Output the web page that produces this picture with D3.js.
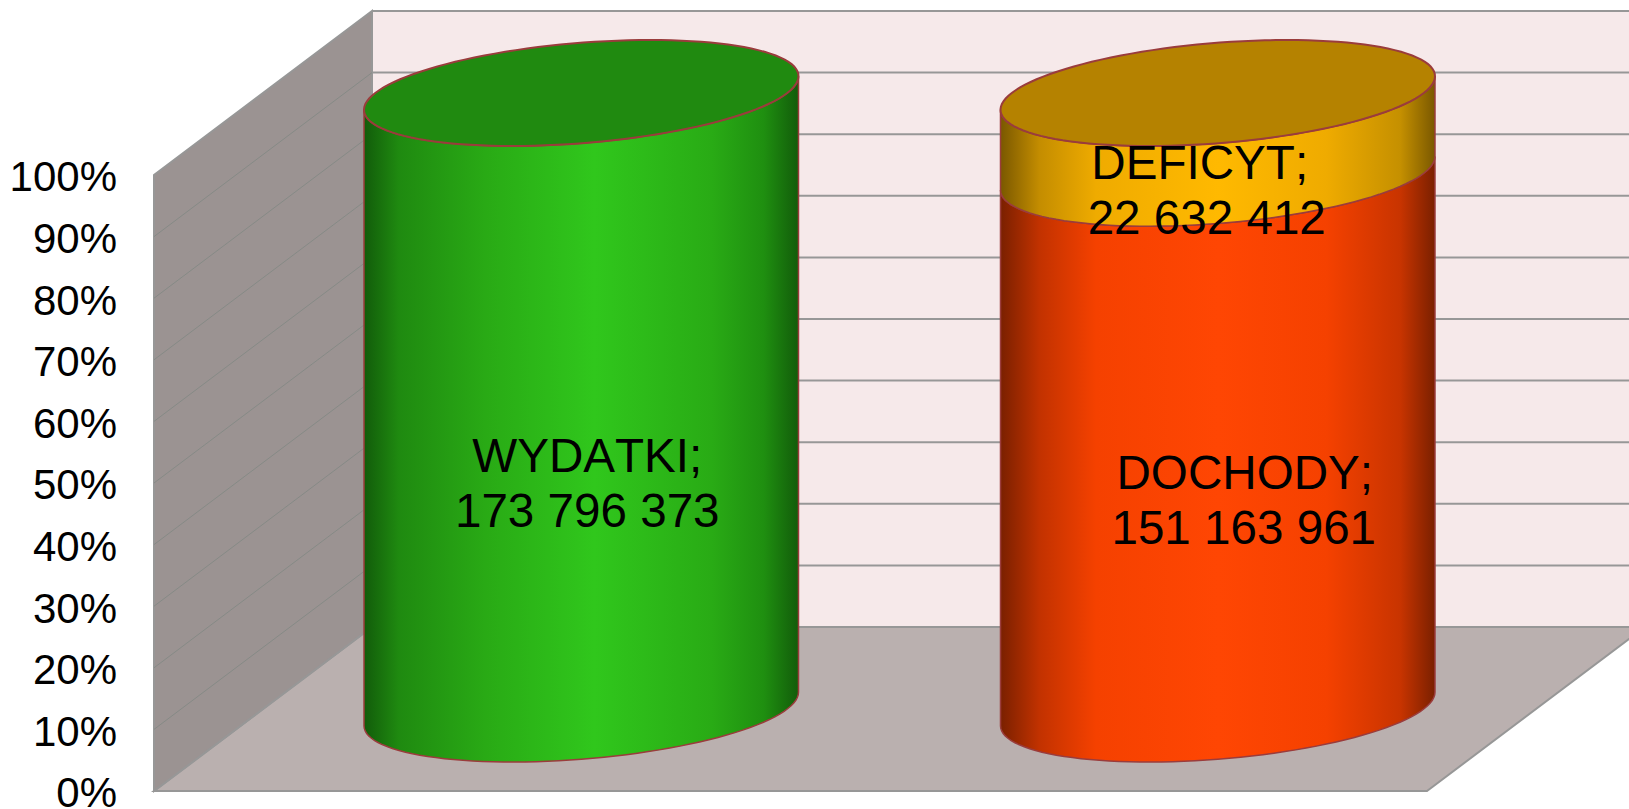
<!DOCTYPE html>
<html>
<head>
<meta charset="utf-8">
<script src="https://cdn.jsdelivr.net/npm/d3@7"></script>
<style>
  html, body { margin: 0; padding: 0; background: #fff; overflow: hidden; }
  svg { display: block; }
  text { font-family: "Liberation Sans", Arial, sans-serif; fill: #000; font-kerning: none; }
</style>
</head>
<body>
<svg id="chart" width="1629" height="809"></svg>
<script>
const categories = ['WYDATKI', 'DOCHODY']
const expenses = [173796373, 0]
const income = [0, 151163961]
const deficit = [0, 22632412]
const percentTicks = [0, 10, 20, 30, 40, 50, 60, 70, 80, 90, 100]

const width = 1629

const svg = d3.select('#chart')
const defs = svg.append('defs')

// oblique projection of the box: the back wall sits up and to the right of the front
const depthX = 218
const depthY = 164

const x = d3.scaleBand().domain(categories).range([263, 1536])
const y = d3.scaleLinear().domain([0, 100]).range([791, 175])

const frontLeft = 154
const frontRight = 1427
const backLeft = frontLeft + depthX
const backRight = frontRight + depthX

const radius = 206
const tiltX = 69
const tiltY = 53

// cylinders stand halfway into the box
const stackY = d3.scaleLinear().domain([0, 1]).range([y(0) - depthY / 2, y(100) - depthY / 2])

const fmt = d => d3.format(',')(d).replace(/,/g, ' ')

function discPoint(cx, cy, t) {
  return [cx + radius * Math.cos(t) + tiltX * Math.sin(t), cy - tiltY * Math.sin(t)]
}

// the silhouette points are where the disc is widest in x
const tangent = Math.atan2(tiltX, radius)

function frontArc(cx, cy) {
  // right silhouette point round the front to the left silhouette point
  return d3.range(0, 61).map(i => discPoint(cx, cy, tangent - Math.PI * i / 60))
}

const line = d3.line()

function sidePath(cx, y0, y1) {
  const lower = frontArc(cx, y0)
  const upper = frontArc(cx, y1).reverse()
  return line(lower.concat(upper)) + 'Z'
}

function discPath(cx, cy) {
  return line(d3.range(0, 121).map(i => discPoint(cx, cy, Math.PI * 2 * i / 120))) + 'Z'
}

function addGradient(id, stops, cx) {
  const half = Math.hypot(radius, tiltX)
  const grad = defs.append('linearGradient')
    .attr('id', id)
    .attr('gradientUnits', 'userSpaceOnUse')
    .attr('x1', cx - half)
    .attr('x2', cx + half)
    .attr('y1', 0)
    .attr('y2', 0)
  stops.forEach(s => grad.append('stop').attr('offset', s[0]).attr('stop-color', s[1]))
}

const greenStops = [[0, '#125c0a'], [0.08, '#1f8a10'], [0.28, '#29aa15'], [0.53, '#30c71c'], [0.8, '#29ab15'], [0.92, '#1f8f10'], [1, '#125c0a']]
const redStops = [[0, '#7a2000'], [0.09, '#c23200'], [0.22, '#f54100'], [0.5, '#ff4603'], [0.75, '#f54100'], [0.92, '#c83400'], [1, '#7a2000']]
const goldStops = [[0, '#7a5800'], [0.09, '#c48d00'], [0.22, '#efab00'], [0.5, '#ffb900'], [0.75, '#efab00'], [0.92, '#c59000'], [1, '#7a5800']]

addGradient('grad-green', greenStops, x(categories[0]) + x.bandwidth() / 2)
addGradient('grad-red', redStops, x(categories[1]) + x.bandwidth() / 2)
addGradient('grad-gold', goldStops, x(categories[1]) + x.bandwidth() / 2)

// walls and floor
const wallEdge = '#979797'

svg.append('polygon')
  .attr('points', [[backLeft, y(100) - depthY], [width, y(100) - depthY], [width, y(0) - depthY], [backLeft, y(0) - depthY]].join(' '))
  .attr('fill', '#f6e9ea')

svg.append('polygon')
  .attr('points', [[frontLeft, y(0)], [frontRight, y(0)], [backRight, y(0) - depthY], [backLeft, y(0) - depthY]].join(' '))
  .attr('fill', '#bab0af')
  .attr('stroke', wallEdge)
  .attr('stroke-width', 2)

svg.append('polygon')
  .attr('points', [[frontLeft, y(0)], [frontLeft, y(100)], [backLeft, y(100) - depthY], [backLeft, y(0) - depthY]].join(' '))
  .attr('fill', '#9b9392')
  .attr('stroke', wallEdge)
  .attr('stroke-width', 2)

// gridlines: along the side wall, then across the back
const gridTicks = percentTicks.slice(1)

svg.append('g').selectAll('line').data(gridTicks.slice(0, -1)).join('line')
  .attr('x1', frontLeft)
  .attr('y1', d => y(d))
  .attr('x2', backLeft)
  .attr('y2', d => y(d) - depthY)
  .attr('stroke', '#868a86')
  .attr('stroke-width', 1)

svg.append('g').selectAll('line').data(gridTicks).join('line')
  .attr('x1', backLeft)
  .attr('y1', d => y(d) - depthY)
  .attr('x2', width)
  .attr('y2', d => y(d) - depthY)
  .attr('stroke', '#979797')
  .attr('stroke-width', 2)

// axis labels
const axis = d3.axisLeft(y).tickValues(percentTicks).tickFormat(d => d + '%').tickSize(0).tickPadding(0)
const axisG = svg.append('g').attr('transform', 'translate(117,2.5)').call(axis)
axisG.select('.domain').remove()
axisG.selectAll('text').style('font-family', '"Liberation Sans", Arial, sans-serif').attr('font-size', 42).attr('fill', '#000')

// cylinders
const stroke = '#9a3c3c'

function drawCylinder(cat, segments) {
  const cx = x(cat) + x.bandwidth() / 2
  const total = d3.sum(segments, s => s.value)
  const g = svg.append('g')
  let acc = 0
  segments.forEach(s => {
    const y0 = stackY(acc / total)
    acc += s.value
    const y1 = stackY(acc / total)
    s.top = y1
    g.append('path')
      .attr('d', sidePath(cx, y0, y1))
      .attr('fill', `url(#${s.fill})`)
      .attr('stroke', stroke)
      .attr('stroke-width', 1.5)
  })
  const last = segments[segments.length - 1]
  g.append('path')
    .attr('d', discPath(cx, last.top))
    .attr('fill', last.cap)
    .attr('stroke', stroke)
    .attr('stroke-width', 2)
}

drawCylinder(categories[0], [{ value: expenses[0], fill: 'grad-green', cap: '#208a10' }])
drawCylinder(categories[1], [
  { value: income[1], fill: 'grad-red', cap: '#b03000' },
  { value: deficit[1], fill: 'grad-gold', cap: '#b58200' }
])

// data labels
const labels = [
  { name: 'WYDATKI', value: expenses[0], cat: 0, dx: 6, nameDx: 0, line1: 472 },
  { name: 'DOCHODY', value: income[1], cat: 1, dx: 26, nameDx: 1, line1: 489 },
  { name: 'DEFICYT', value: deficit[1], cat: 1, dx: -11, nameDx: -7, line1: 179 }
]

const labelG = svg.append('g').attr('font-size', 47.6).attr('text-anchor', 'middle')

labels.forEach(l => {
  const cx = x(categories[l.cat]) + x.bandwidth() / 2 + l.dx
  const t = labelG.append('text').attr('x', cx).attr('y', l.line1)
  t.append('tspan').attr('x', cx + l.nameDx).text(l.name + ';')
  t.append('tspan').attr('x', cx).attr('dy', 55).text(fmt(l.value))
})
</script>
</body>
</html>
